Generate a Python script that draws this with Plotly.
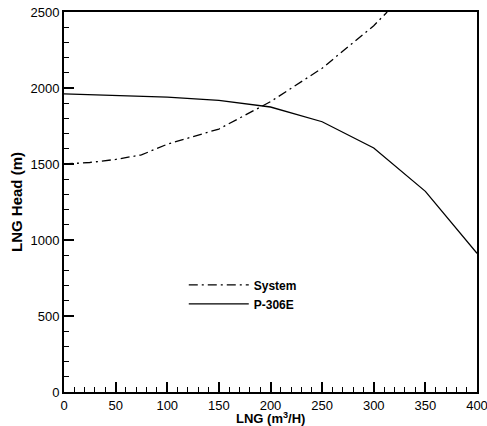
import plotly.graph_objects as go

flow_sys = [0, 25, 50, 75, 100, 150, 200, 250, 300, 313]
head_sys = [1500, 1510, 1530, 1560, 1630, 1730, 1910, 2130, 2410, 2500]

flow_pump = [0, 50, 100, 150, 200, 250, 300, 350, 400]
head_pump = [1962, 1950, 1940, 1918, 1875, 1778, 1605, 1320, 912]

x_ticks = [0, 50, 100, 150, 200, 250, 300, 350, 400]
y_ticks = [0, 500, 1000, 1500, 2000, 2500]

fig = go.Figure()
fig.add_trace(go.Scatter(x=flow_sys, y=head_sys, mode="lines", name="System",
                         line=dict(color="black", width=1.3, dash="9px,4px,2px,4px")))
fig.add_trace(go.Scatter(x=flow_pump, y=head_pump, mode="lines", name="P-306E",
                         line=dict(color="black", width=1.3)))

font = "Liberation Sans, Arial, sans-serif"
fig.update_layout(
    width=487, height=426,
    margin=dict(l=64, r=10, t=12, b=34),
    plot_bgcolor="white", paper_bgcolor="white",
    font=dict(family=font, color="black", size=13),
    legend=dict(x=0.29, y=0.32, xanchor="left", yanchor="top",
                bgcolor="rgba(0,0,0,0)", font=dict(size=12, family=font, weight="bold"),
                tracegroupgap=0, itemwidth=60),
    showlegend=True,
)
fig.update_xaxes(range=[0, 400], tickvals=x_ticks, ticks="inside", ticklen=10, tickwidth=1.5,
                 tickcolor="black", showline=True, linecolor="black", linewidth=2, mirror=True,
                 showgrid=False, zeroline=False, automargin=False, ticklabeloverflow="allow",
                 minor=dict(dtick=10, ticks="inside", ticklen=5, tickcolor="black", tickwidth=1),
                 title=None,
                 tickfont=dict(size=13))
fig.update_yaxes(range=[0, 2500], tickvals=y_ticks, ticks="inside", ticklen=10, tickwidth=1.5,
                 tickcolor="black", showline=True, linecolor="black", linewidth=2, mirror=True,
                 showgrid=False, zeroline=False, automargin=False, ticklabeloverflow="allow",
                 minor=dict(dtick=100, ticks="inside", ticklen=5, tickcolor="black", tickwidth=1),
                 title=dict(text="LNG Head (m)", standoff=4,
                            font=dict(size=15, family=font, weight="bold")),
                 tickfont=dict(size=13))
fig.add_annotation(text="LNG (m<sup>3</sup>/H)", xref="paper", yref="paper", x=0.5, y=-34 / 380,
                   xanchor="center", yanchor="bottom", yshift=-1, showarrow=False, borderpad=0,
                   font=dict(size=13, family=font, weight="bold"))

fig.write_html("out.html")
